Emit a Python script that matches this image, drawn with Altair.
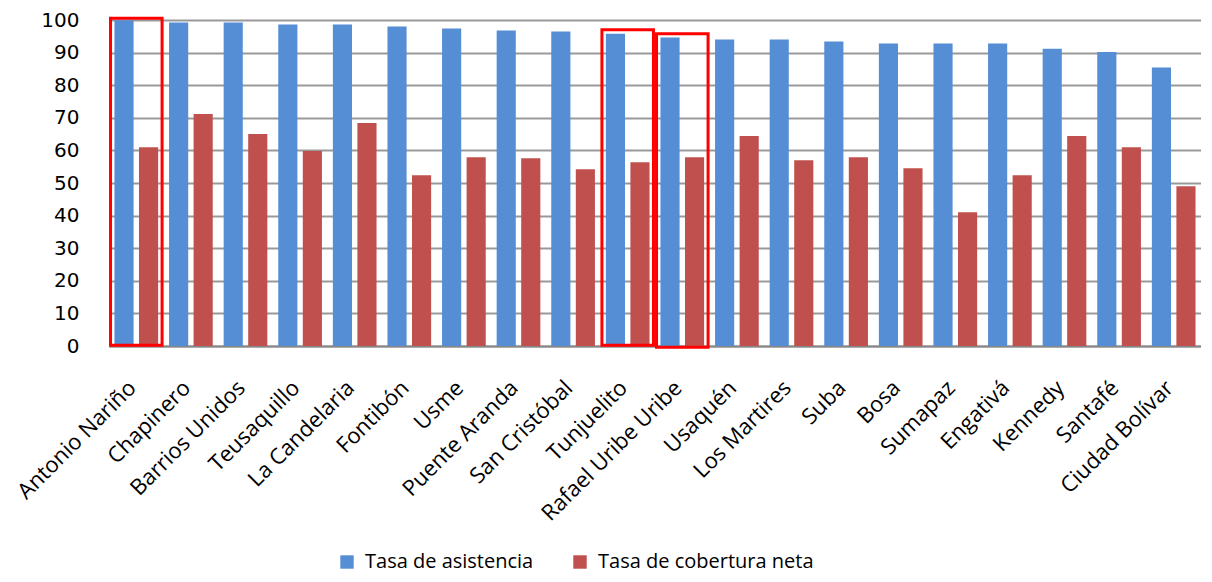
import altair as alt
import pandas as pd

categories = ["Antonio Nariño", "Chapinero", "Barrios Unidos", "Teusaquillo", "La Candelaria",
              "Fontibón", "Usme", "Puente Aranda", "San Cristóbal", "Tunjuelito",
              "Rafael Uribe Uribe", "Usaquén", "Los Martires", "Suba", "Bosa",
              "Sumapaz", "Engativá", "Kennedy", "Santafé", "Ciudad Bolívar"]
asistencia = [99.9, 99.2, 99.2, 98.6, 98.6, 98.0, 97.4, 96.8, 96.5, 95.8,
              94.6, 94.0, 94.0, 93.4, 92.8, 92.8, 92.8, 91.2, 90.2, 85.4]
cobertura = [61.0, 71.2, 65.0, 59.8, 68.4, 52.4, 57.9, 57.6, 54.2, 56.4,
             57.9, 64.4, 57.0, 57.9, 54.5, 41.0, 52.4, 64.4, 61.0, 49.0]
series = ["Tasa de asistencia", "Tasa de cobertura neta"]
colors = ["#558ED5", "#C0504D"]
y_ticks = [0, 10, 20, 30, 40, 50, 60, 70, 80, 90, 100]

# highlighted boxes (annotation)
box_cats = ["Antonio Nariño", "Tunjuelito", "Rafael Uribe Uribe"]
box_top = [100.5, 97.0, 95.8]
box_bottom = [0.2, 0.2, -0.4]

rows = []
for c, a, b in zip(categories, asistencia, cobertura):
    rows.append({"cat": c, "serie": series[0], "valor": a})
    rows.append({"cat": c, "serie": series[1], "valor": b})
df = pd.DataFrame(rows)
boxes = pd.DataFrame({"cat": box_cats, "top": box_top, "bottom": box_bottom})

xscale = alt.Scale(domain=categories, paddingInner=0.2, paddingOuter=0.1)
yscale = alt.Scale(domain=[0, 100], nice=False)
xaxis = alt.Axis(labelAngle=-45, labelAlign="right", labelBaseline="middle",
                 labelPadding=38, labelOffset=-4, ticks=False, domain=True,
                 domainColor="#888888", domainWidth=2,
                 labelFont="Open Sans", labelFontSize=22, labelColor="#000000",
                 labelLimit=300)
yaxis = alt.Axis(values=y_ticks, ticks=False, domain=False, labelOverlap=False,
                 gridColor="#999999", gridWidth=2, labelPadding=30,
                 labelFont="DejaVu Sans", labelFontSize=20, labelColor="#000000")

bars = alt.Chart(df).mark_bar().encode(
    x=alt.X("cat:N", sort=categories, scale=xscale, title=None, axis=xaxis),
    xOffset=alt.XOffset("serie:N", sort=series, scale=alt.Scale(paddingInner=0.22)),
    y=alt.Y("valor:Q", scale=yscale, title=None, axis=yaxis),
    color=alt.Color("serie:N", sort=series, scale=alt.Scale(domain=series, range=colors),
                    legend=alt.Legend(title=None, orient="none", direction="horizontal",
                                      legendX=228, legendY=532, symbolType="square",
                                      symbolSize=180, symbolStrokeWidth=0,
                                      labelFont="Open Sans", labelFontSize=20,
                                      labelColor="#000000", columnPadding=36,
                                      labelLimit=400, labelOffset=8)),
)

box = alt.Chart(boxes).mark_bar(filled=False, stroke="#FF0000", strokeWidth=3,
                                width=alt.RelativeBandSize(1.18)).encode(
    x=alt.X("cat:N", sort=categories, scale=xscale, title=None, axis=xaxis),
    y=alt.Y("top:Q", scale=yscale, title=None, axis=yaxis),
    y2="bottom:Q",
)

chart = alt.layer(bars, box).properties(
    width=1092, height=326,
    padding={"left": 5, "top": 2, "right": 0, "bottom": 0},
).configure_view(stroke=None)

chart.save("out.html", embed_options={"renderer": "svg", "actions": False})
